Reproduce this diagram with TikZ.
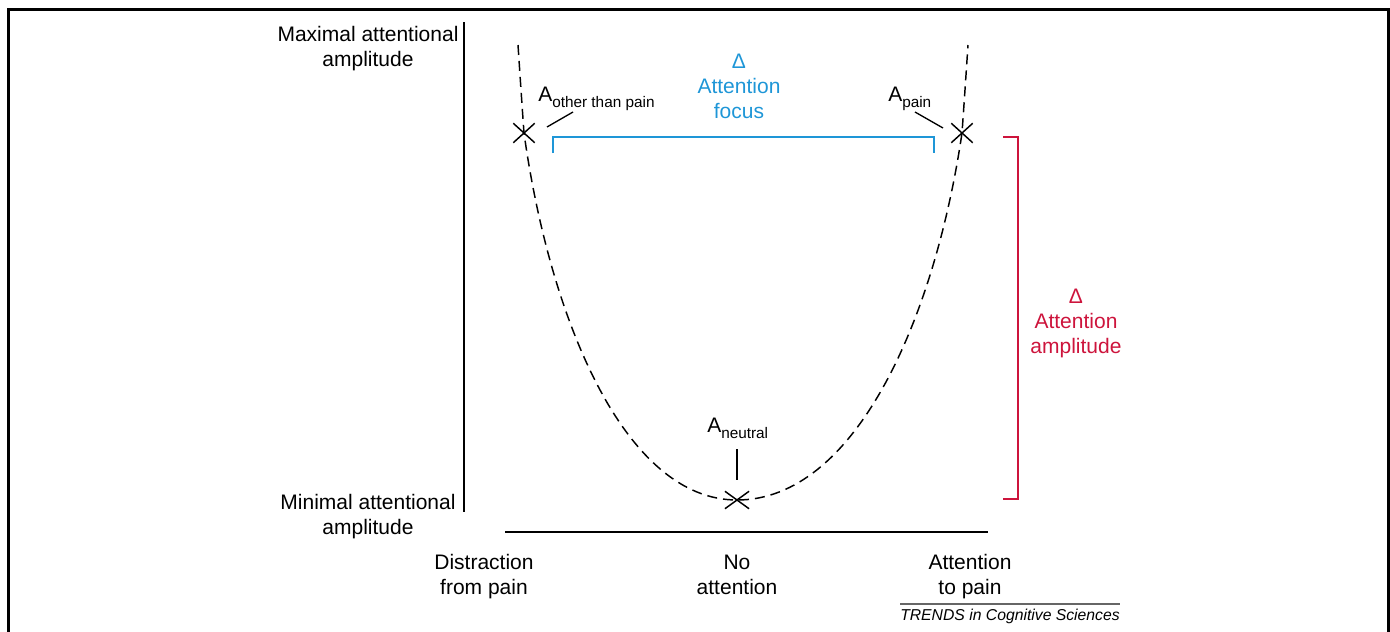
\documentclass[tikz,border=0pt]{standalone}
\usepackage{fontspec}
\setmainfont{Liberation Sans}
\usetikzlibrary{shapes.misc}
\definecolor{fblue}{RGB}{30,150,215}
\definecolor{fred}{RGB}{205,20,60}
\newcommand{\subtxt}[1]{\raisebox{-4.5pt}{\fontsize{11.5}{12}\selectfont #1}}
\begin{document}
\begin{tikzpicture}[x=0.75pt,y=-0.75pt,
  lbl/.style={font=\fontsize{15.75}{18.75}\selectfont, align=center, inner sep=0pt},
  alabel/.style={font=\fontsize{15.75}{18.75}\selectfont, inner sep=0pt, anchor=base west},
  curve/.style={dash pattern=on 7.5pt off 4.5pt, line width=1.1pt},
  crossmark/.style={draw, cross out, minimum width=15pt, minimum height=13.5pt, inner sep=0pt, line width=1.1pt},
  axis/.style={line width=2pt},
  leader/.style={line width=1pt},
  bluebr/.style={draw=fblue, line width=0.9pt},
  redbr/.style={draw=fred, line width=0.9pt}]
\useasboundingbox (0,0) rectangle (1390,632);
% frame
\draw[line width=1.6pt] (8.5,632) -- (8.5,9.5) -- (1388.5,9.5) -- (1388.5,632);
% axes
\coordinate (vaT) at (464,22);
\coordinate (vaB) at (464,512);
\draw[axis] (vaT) -- (vaB);
\coordinate (haL) at (505,532);
\coordinate (haR) at (988,532);
\draw[axis] (haL) -- (haR);
% axis labels
\node[lbl] (maxl) at (368,49) {Maximal attentional\\amplitude};
\node[lbl] (minl) at (368,517) {Minimal attentional\\amplitude};
\node[lbl] (dist) at (484,577) {Distraction\\from pain};
\node[lbl] (noat) at (737,575) {No\\attention};
\node[lbl] (atp) at (970,577) {Attention\\to pain};
% crosses
\node[crossmark] (Xo) at (524,133) {};
\node[crossmark, minimum width=17pt, minimum height=12pt] (Xn) at (737,500) {};
\node[crossmark] (Xp) at (962,133) {};
% curve
\coordinate (cTL) at (518,45);
\coordinate (cTR) at (968,45);
\draw[curve] (cTL) .. controls (520,75) and (522,105) .. (Xo.center) .. controls (550,320) and (625,500) .. (Xn.center)
  .. controls (855,500) and (934.5,320) .. (Xp.center) .. controls (964,105) and (966,75) .. (cTR);
% A labels
\node[alabel] (Ao) at (538,101) {A\subtxt{other than pain}};
\node[alabel] (Ap) at (888,101) {A\subtxt{pain}};
\node[alabel] (An) at (707,432) {A\subtxt{neutral}};
\coordinate (loA) at (573,112); \coordinate (loB) at (547,127);
\draw[leader] (loA) -- (loB);
\coordinate (lpA) at (915,112); \coordinate (lpB) at (943,128);
\draw[leader] (lpA) -- (lpB);
\coordinate (lnA) at (737,449); \coordinate (lnB) at (737,480);
\draw[leader] (lnA) -- (lnB);
% blue bracket
\node[lbl, text=fblue] (focus) at (739,86) {Δ\\Attention\\focus};
\coordinate (fbL) at (553,153);
\coordinate (fbR) at (934,153);
\draw[bluebr] (fbL) -- ++(0,-16) -| (fbR);
% red bracket
\node[lbl, text=fred] (ampl) at (1076,323) {Δ\\Attention\\amplitude};
\coordinate (raT) at (1003,137);
\coordinate (raB) at (1003,499);
\draw[redbr] (raT) -- ++(15,0) |- (raB);
% credit
\coordinate (crL) at (900,604);
\coordinate (crR) at (1120,604);
\draw[line width=0.8pt, black!60] (crL) -- (crR);
\node[inner sep=0pt, font=\fontsize{11.8}{13}\selectfont\itshape] (cred) at (1010,616) {TRENDS in Cognitive Sciences};
\end{tikzpicture}
\end{document}
